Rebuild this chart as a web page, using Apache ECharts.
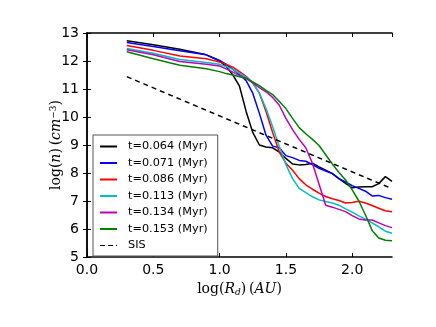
<!doctype html>
<html lang="en">
    <head>
        <meta charset="UTF-8" />
        <title>log(n) vs log(Rd)</title>
        <script src="https://cdn.jsdelivr.net/npm/echarts@6/dist/echarts.min.js"></script>
        <style>
            body { margin: 0; background: #fff; }
        </style>
    </head>
    <body>
        <div id="main" style="width: 436px; height: 327px"></div>

        <script>
            // log(R_d) sample points shared by every curve
            const logR = [0.3, 0.5, 0.7, 0.9, 1.0, 1.05, 1.1, 1.15, 1.2, 1.25, 1.3, 1.35, 1.4, 1.45, 1.5,
                1.55, 1.6, 1.65, 1.7, 1.75, 1.8, 1.85, 1.9, 1.95, 2.0, 2.05, 2.1, 2.15, 2.2, 2.25, 2.3];

            const n064 = [12.72, 12.58, 12.42, 12.22, 12.0, 11.8, 11.5, 11.1, 10.2, 9.45, 9.0, 8.93, 8.9, 8.75, 8.52,
                8.32, 8.29, 8.3, 8.35, 8.22, 8.1, 7.98, 7.8, 7.63, 7.47, 7.5, 7.51, 7.51, 7.62, 7.87, 7.7];
            const n071 = [12.66, 12.52, 12.37, 12.22, 12.02, 11.88, 11.7, 11.52, 11.3, 10.85, 10.13, 9.35, 8.96, 8.9, 8.62,
                8.55, 8.45, 8.42, 8.3, 8.17, 8.07, 7.98, 7.8, 7.68, 7.55, 7.45, 7.35, 7.18, 7.2, 7.12, 7.06];
            const n086 = [12.55, 12.38, 12.18, 12.08, 11.96, 11.88, 11.78, 11.62, 11.45, 11.22, 10.85, 10.2, 9.45, 8.75, 8.35,
                8.1, 7.8, 7.58, 7.42, 7.28, 7.16, 7.08, 7.02, 6.93, 6.95, 6.99, 6.93, 6.84, 6.74, 6.65, 6.62];
            const n113 = [12.45, 12.28, 12.05, 11.95, 11.88, 11.8, 11.7, 11.56, 11.42, 11.22, 10.85, 10.3, 9.65, 8.95, 8.3,
                7.8, 7.45, 7.3, 7.15, 7.04, 6.98, 6.93, 6.85, 6.72, 6.6, 6.47, 6.35, 6.22, 6.08, 5.92, 5.85];
            const n134 = [12.4, 12.22, 11.98, 11.88, 11.82, 11.72, 11.6, 11.48, 11.38, 11.22, 11.05, 10.9, 10.7, 10.42, 9.95,
                9.55, 9.2, 8.9, 8.35, 7.6, 6.85, 6.78, 6.7, 6.62, 6.48, 6.36, 6.32, 6.32, 6.22, 6.12, 6.05];
            const n153 = [12.33, 12.08, 11.85, 11.72, 11.62, 11.55, 11.5, 11.44, 11.38, 11.25, 11.12, 10.95, 10.8, 10.55, 10.3,
                9.95, 9.62, 9.4, 9.2, 8.98, 8.65, 8.32, 8.02, 7.75, 7.4, 7.0, 6.5, 5.95, 5.68, 5.6, 5.58];

            // singular isothermal sphere reference line (two ends)
            const sisR = [0.3, 2.3];
            const sisN = [11.44, 7.44];

            const labels = ["t=0.064 (Myr)", "t=0.071 (Myr)", "t=0.086 (Myr)", "t=0.113 (Myr)",
                "t=0.134 (Myr)", "t=0.153 (Myr)"];
            const colors = ["#000000", "#0000ff", "#ff0000", "#00bfbf", "#bf00bf", "#008000"];
            const curves = [n064, n071, n086, n113, n134, n153];

            const myChart = echarts.init(document.getElementById("main"));

            const pair = (xs, ys) => xs.map((x, i) => [x, ys[i]]);

            const series = curves.map((ys, k) => ({
                name: labels[k],
                type: "line",
                symbol: "none",
                data: pair(logR, ys),
                lineStyle: { color: colors[k], width: 1.5 },
                itemStyle: { color: colors[k] },
            }));
            series.push({
                name: "SIS",
                type: "line",
                symbol: "none",
                data: pair(sisR, sisN),
                lineStyle: { color: "#000", width: 1.5, type: [5, 4] },
                itemStyle: { color: "#000" },
            });

            // legend samples: solid bar, or three dashes for SIS
            const legendData = labels.map((name) => ({ name: name, icon: "rect" }));
            legendData.push({ name: "SIS", icon: "path://M0,0h5v1h-5z M8,0h5v1h-5z M16,0h1v1h-1z" });

            const tick = { show: true, inside: true, length: 4, lineStyle: { color: "#000", width: 1 } };
            const line = { show: true, lineStyle: { color: "#000", width: 1.5 } };

            const options = {
                animation: false,
                textStyle: { fontFamily: "DejaVu Sans" },
                grid: { left: 87, top: 33, width: 305, height: 224 },
                legend: {
                    orient: "vertical",
                    left: 93,
                    top: 135,
                    padding: [5, 10, 4, 7],
                    itemWidth: 17,
                    itemHeight: 2,
                    itemGap: 3.5,
                    borderColor: "#555",
                    borderWidth: 1,
                    backgroundColor: "#fff",
                    borderRadius: 0,
                    textStyle: { fontSize: 11.3, color: "#000", lineHeight: 13, padding: [0, 0, 0, 6] },
                    data: legendData,
                },
                xAxis: [
                    {
                        type: "value",
                        min: 0,
                        max: 2.3,
                        interval: 0.5,
                        axisLine: line,
                        axisTick: tick,
                        splitLine: { show: false },
                        axisLabel: {
                            fontSize: 14,
                            color: "#000",
                            margin: 6,
                            showMaxLabel: false,
                            formatter: (v) => v.toFixed(1),
                        },
                        name: "{t|log(}{i|R}{s|d}{t|)\u2009(}{i|AU}{t|)}",
                        nameLocation: "middle",
                        nameGap: 25,
                        nameMoveOverlap: false,
                        nameTextStyle: {
                            rich: {
                                t: { fontFamily: "DejaVu Serif", fontSize: 14, color: "#000" },
                                i: { fontFamily: "DejaVu Serif", fontStyle: "italic", fontSize: 14, color: "#000" },
                                s: { fontFamily: "DejaVu Serif", fontStyle: "italic", fontSize: 9, color: "#000", verticalAlign: "bottom", padding: [6, 0, 0, 0] },
                            },
                        },
                    },
                    {
                        type: "value",
                        position: "top",
                        min: 0,
                        max: 2.3,
                        interval: 0.5,
                        axisLine: line,
                        axisTick: tick,
                        axisLabel: { show: false },
                        splitLine: { show: false },
                    },
                ],
                yAxis: [
                    {
                        type: "value",
                        min: 5,
                        max: 13,
                        interval: 1,
                        axisLine: line,
                        axisTick: tick,
                        splitLine: { show: false },
                        axisLabel: { fontSize: 14, color: "#000", margin: 8 },
                        name: "{t|log(}{i|n}{t|)\u2009(}{i|cm}{s|\u22123}{t|)}",
                        nameLocation: "middle",
                        nameRotate: 90,
                        nameGap: 23,
                        nameMoveOverlap: false,
                        nameTextStyle: {
                            rich: {
                                t: { fontFamily: "DejaVu Serif", fontSize: 14, color: "#000" },
                                i: { fontFamily: "DejaVu Serif", fontStyle: "italic", fontSize: 14, color: "#000" },
                                s: { fontFamily: "DejaVu Serif", fontSize: 9, color: "#000", verticalAlign: "top", padding: [0, 0, 6, 0] },
                            },
                        },
                    },
                    {
                        type: "value",
                        position: "right",
                        min: 5,
                        max: 13,
                        interval: 1,
                        axisLine: line,
                        axisTick: tick,
                        axisLabel: { show: false },
                        splitLine: { show: false },
                    },
                ],
                series: series,
            };

            myChart.setOption(options);
        </script>
    </body>
</html>
